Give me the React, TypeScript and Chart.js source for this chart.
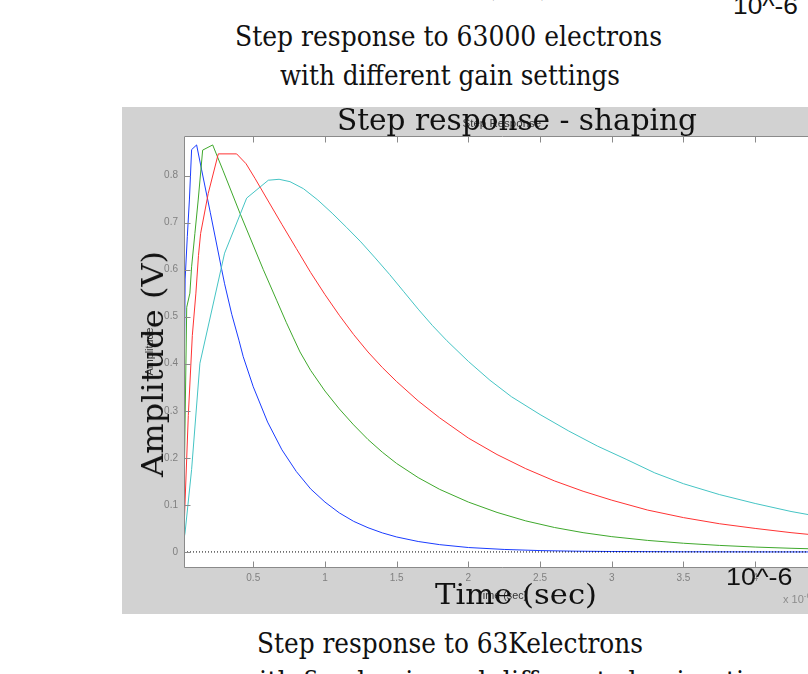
import React, { useEffect, useRef } from "react";
import { Chart, registerables } from "chart.js";

Chart.register(...registerables);

// ---- data (time in µs, amplitude in V) ----
const blueTime = [0, 0.015, 0.025, 0.04, 0.055, 0.07, 0.105, 0.14, 0.2, 0.28, 0.3, 0.35, 0.4, 0.43, 0.5, 0.6, 0.7, 0.8, 0.9, 1.0, 1.1, 1.2, 1.3, 1.4, 1.5, 1.65, 1.8, 2.0, 2.25, 2.5, 2.75, 3.0, 3.5, 4.0, 4.45];
const blueAmp = [0, 0.25, 0.58, 0.67, 0.75, 0.855, 0.865, 0.812, 0.722, 0.6, 0.57, 0.505, 0.45, 0.415, 0.351, 0.276, 0.217, 0.171, 0.134, 0.106, 0.083, 0.065, 0.0515, 0.0405, 0.0318, 0.0222, 0.0155, 0.0094, 0.0053, 0.0029, 0.0016, 0.0009, 0.0003, 0.0001, 0];

const greenTime = [0, 0.019, 0.036, 0.058, 0.07, 0.093, 0.116, 0.147, 0.217, 0.29, 0.407, 0.57, 0.663, 0.73, 0.78, 0.826, 0.9, 1.0, 1.1, 1.2, 1.3, 1.4, 1.5, 1.65, 1.8, 2.0, 2.2, 2.4, 2.6, 2.8, 3.0, 3.25, 3.5, 3.75, 4.0, 4.25, 4.45];
const greenAmp = [0, 0.16, 0.52, 0.55, 0.606, 0.677, 0.748, 0.854, 0.865, 0.81, 0.72, 0.6, 0.535, 0.488, 0.455, 0.425, 0.386, 0.342, 0.304, 0.27, 0.239, 0.212, 0.188, 0.158, 0.133, 0.106, 0.084, 0.066, 0.052, 0.041, 0.0325, 0.0245, 0.0185, 0.0139, 0.0104, 0.0078, 0.0062];

const redTime = [0, 0.02, 0.047, 0.075, 0.1, 0.118, 0.133, 0.186, 0.256, 0.384, 0.45, 0.512, 0.6, 0.7, 0.8, 0.9, 1.0, 1.1, 1.2, 1.3, 1.4, 1.5, 1.65, 1.8, 2.0, 2.2, 2.4, 2.6, 2.8, 3.0, 3.25, 3.5, 3.75, 4.0, 4.25, 4.45];
const redAmp = [0, 0.07, 0.29, 0.46, 0.55, 0.63, 0.677, 0.762, 0.846, 0.846, 0.825, 0.794, 0.748, 0.696, 0.645, 0.594, 0.547, 0.503, 0.462, 0.425, 0.392, 0.362, 0.321, 0.285, 0.242, 0.207, 0.177, 0.151, 0.129, 0.11, 0.089, 0.073, 0.06, 0.05, 0.041, 0.035];

const cyanTime = [0, 0.024, 0.07, 0.128, 0.3, 0.454, 0.605, 0.68, 0.756, 0.85, 0.95, 1.05, 1.15, 1.25, 1.35, 1.45, 1.55, 1.65, 1.75, 1.85, 2.0, 2.15, 2.3, 2.5, 2.7, 2.9, 3.1, 3.3, 3.5, 3.75, 4.0, 4.25, 4.45];
const cyanAmp = [0, 0.04, 0.175, 0.401, 0.635, 0.752, 0.79, 0.792, 0.787, 0.772, 0.748, 0.72, 0.69, 0.659, 0.625, 0.59, 0.553, 0.516, 0.481, 0.449, 0.405, 0.365, 0.33, 0.292, 0.257, 0.225, 0.197, 0.168, 0.145, 0.122, 0.103, 0.086, 0.075];

const zeroTime = [0.017, 4.45];
const zeroAmp = [0, 0];

const xMin = 0.017;
const xMax = 4.45;
const yMin = -0.032;
const yMax = 0.884;
const xTickStep = 0.5;
const yTickStep = 0.1;

const chartTitle = "Step Response";
const xAxisTitle = "Time (sec)";
const yAxisTitle = "Amplitude";

// ---- styling ----
const FIG_GRAY = "rgb(210,210,210)";
const AXIS_GRAY = "#8a8a8a";
const TICK_LABEL = "#808080";
const SERIF = "'DejaVu Serif', serif";
const SANS = "'Liberation Sans', Arial, sans-serif";

function zip(t: number[], v: number[]) {
  return t.map((x, i) => ({ x, y: v[i] }));
}

const matlabAxes = {
  id: "matlabAxes",
  beforeDraw(chart: any) {
    const { ctx, chartArea: a, width, height } = chart;
    ctx.save();
    ctx.fillStyle = FIG_GRAY;
    ctx.fillRect(0, 0, width, height);
    ctx.fillStyle = "#ffffff";
    ctx.fillRect(a.left, a.top, a.right - a.left, a.bottom - a.top);
    ctx.restore();
  },
  afterDatasetsDraw(chart: any) {
    const { ctx, chartArea: a } = chart;
    const xs = chart.scales.x;
    const ys = chart.scales.y;
    const L = 6;
    ctx.save();
    ctx.strokeStyle = AXIS_GRAY;
    ctx.lineWidth = 1;
    ctx.beginPath();
    const l = Math.round(a.left) + 0.5;
    const r = Math.round(a.right) + 0.5;
    const t = Math.round(a.top) + 0.5;
    const b = Math.round(a.bottom) + 0.5;
    ctx.rect(l, t, r - l, b - t);
    xs.ticks.forEach((tk: any) => {
      const px = Math.round(xs.getPixelForValue(tk.value)) + 0.5;
      ctx.moveTo(px, b);
      ctx.lineTo(px, b - L);
      ctx.moveTo(px, t);
      ctx.lineTo(px, t + L);
    });
    ys.ticks.forEach((tk: any) => {
      const py = Math.round(ys.getPixelForValue(tk.value)) + 0.5;
      ctx.moveTo(l, py);
      ctx.lineTo(l + L, py);
      ctx.moveTo(r, py);
      ctx.lineTo(r - L, py);
    });
    ctx.stroke();
    ctx.restore();
  },
};

let measureCtx: CanvasRenderingContext2D | null = null;
function measure(text: string, size: number, family: string) {
  if (!measureCtx) measureCtx = document.createElement("canvas").getContext("2d");
  if (!measureCtx) return 1;
  measureCtx.font = `${size}px ${family}`;
  return measureCtx.measureText(text).width || 1;
}

type TextProps = {
  text: string;
  left: number;
  baseline: number;
  size: number;
  width: number;
  family?: string;
  color?: string;
};

function SlideText({ text, left, baseline, size, width, family = SERIF, color = "#111" }: TextProps) {
  const s = width / measure(text, size, family);
  return (
    <div
      style={{
        position: "absolute",
        left,
        top: baseline - 0.846 * size,
        fontFamily: family,
        fontSize: size,
        lineHeight: 1,
        whiteSpace: "nowrap",
        color,
        transformOrigin: "0 0",
        transform: `scaleX(${s})`,
        zIndex: 2,
      }}
    >
      {text}
    </div>
  );
}

function RotText({ text, cx, cy, size, width }: { text: string; cx: number; cy: number; size: number; width: number }) {
  const s = width / measure(text, size, SERIF);
  return (
    <div
      style={{
        position: "absolute",
        left: cx,
        top: cy,
        fontFamily: SERIF,
        fontSize: size,
        lineHeight: 1,
        whiteSpace: "nowrap",
        color: "#111",
        transform: `translate(-50%,-50%) rotate(-90deg) scaleX(${s})`,
        zIndex: 2,
      }}
    >
      {text}
    </div>
  );
}

export default function App() {
  const ref = useRef<HTMLCanvasElement>(null);

  useEffect(() => {
    if (!ref.current) return;
    const tickFont = { family: SANS, size: 10 };
    const fmt = (v: any) => String(Math.round(Number(v) * 10) / 10);
    const mk = (label: string, t: number[], v: number[], color: string, dash: number[] = []) => ({
      label,
      data: zip(t, v),
      borderColor: color,
      borderWidth: 1,
      borderDash: dash,
      pointRadius: 0,
      tension: 0,
      fill: false,
    });
    const chart = new Chart(ref.current, {
      type: "line",
      data: {
        datasets: [
          mk("zero", zeroTime, zeroAmp, "#000000", [1, 2]),
          mk("cyan", cyanTime, cyanAmp, "#45c4c4"),
          mk("red", redTime, redAmp, "#ff3333"),
          mk("green", greenTime, greenAmp, "#3fa82c"),
          mk("blue", blueTime, blueAmp, "#1a3cff"),
        ],
      },
      options: {
        animation: false,
        responsive: false,
        maintainAspectRatio: false,
        layout: { padding: { left: 0, right: 22.3, top: 0, bottom: 0 } },
        plugins: {
          legend: { display: false },
          tooltip: { enabled: false },
          title: {
            display: true,
            text: chartTitle,
            fullSize: false,
            color: "#333333",
            font: { family: SANS, size: 11.5, weight: "normal" },
            padding: { top: 10.1, bottom: 5.1 },
          },
        },
        scales: {
          x: {
            type: "linear",
            min: xMin,
            max: xMax,
            afterFit(s: any) {
              s.height = 47;
            },
            grid: { display: false, drawTicks: false },
            border: { display: false },
            ticks: {
              stepSize: xTickStep,
              includeBounds: false,
              padding: 5,
              color: TICK_LABEL,
              font: tickFont,
              maxRotation: 0,
              autoSkip: false,
              callback: fmt,
            },
            title: {
              display: true,
              text: xAxisTitle,
              color: "#333333",
              font: { family: SANS, size: 10.8 },
              padding: { top: 0, bottom: 11 },
            },
          },
          y: {
            type: "linear",
            min: yMin,
            max: yMax,
            afterFit(s: any) {
              s.width = 62;
            },
            grid: { display: false, drawTicks: false },
            border: { display: false },
            ticks: {
              stepSize: yTickStep,
              includeBounds: false,
              padding: 6,
              color: TICK_LABEL,
              font: tickFont,
              autoSkip: false,
              callback: fmt,
            },
            title: {
              display: true,
              text: yAxisTitle,
              color: "#333333",
              font: { family: SANS, size: 10.8 },
              padding: { top: 22, bottom: 0 },
            },
          },
        },
      } as any,
      plugins: [matlabAxes],
    });
    return () => chart.destroy();
  }, []);

  return (
    <div
      style={{
        position: "absolute",
        left: 0,
        top: 0,
        width: 808,
        height: 674,
        overflow: "hidden",
        background: "#ffffff",
      }}
    >
      <canvas
        ref={ref}
        width={720}
        height={507}
        style={{ position: "absolute", left: 122, top: 107, width: 720, height: 507, zIndex: 1 }}
      />
      <SlideText text="Time (sec)" left={410} baseline={-3} size={28} width={140} />
      <SlideText text="10^-6" left={733} baseline={14} size={24} width={65} family={SANS} />
      <SlideText text="Step response to 63000 electrons" left={235} baseline={46} size={27} width={427} />
      <SlideText text="with different gain settings" left={280} baseline={84.5} size={27} width={340} />
      <SlideText text="Step response - shaping" left={337} baseline={130} size={30} width={360} />
      <RotText text="Amplitude (V)" cx={152.5} cy={363.5} size={30} width={226} />
      <SlideText text="Time (sec)" left={435} baseline={605} size={28} width={162} />
      <SlideText text="10^-6" left={725.5} baseline={585} size={24} width={66.5} family={SANS} />
      <div
        style={{
          position: "absolute",
          left: 783,
          top: 592,
          fontFamily: SANS,
          fontSize: 11,
          lineHeight: 1,
          color: "#8c8c8c",
          whiteSpace: "nowrap",
          zIndex: 2,
        }}
      >
        x 10<sup style={{ fontSize: 8 }}>-6</sup>
      </div>
      <SlideText text="Step response to 63Kelectrons" left={257} baseline={653} size={27} width={386} />
      <SlideText text="with fixed gain and different shaping times" left={237} baseline={691} size={27} width={560} />
    </div>
  );
}
